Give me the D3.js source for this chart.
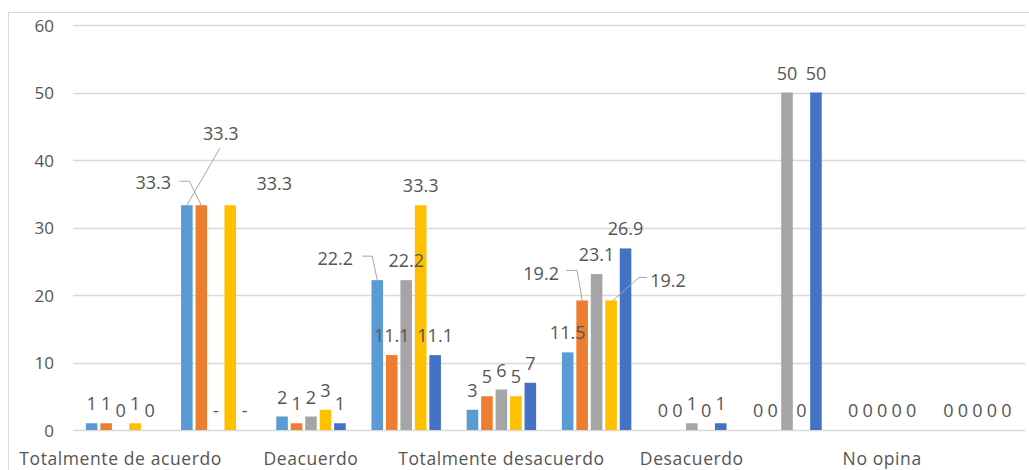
<!DOCTYPE html>
<html>
<head>
<meta charset="utf-8">
<script src="https://cdn.jsdelivr.net/npm/d3@7"></script>
<style>
  body { margin: 0; background: #fff; }
  text { font-family: "Open Sans", sans-serif; fill: #555; font-weight: 500; }
</style>
</head>
<body>
<svg id="chart" width="1029" height="470"></svg>
<script>
// categorias (cada una ocupa dos grupos: frecuencia y porcentaje)
const categories = ["Totalmente de acuerdo", "Deacuerdo", "Totalmente desacuerdo", "Desacuerdo", "No opina"];
const groups = ["TA n", "TA %", "DA n", "DA %", "TD n", "TD %", "D n", "D %", "NO n", "NO %"];
const seriesNames = ["Serie 1", "Serie 2", "Serie 3", "Serie 4", "Serie 5"];
const colors = ["#5B9BD5", "#ED7D31", "#A5A5A5", "#FFC000", "#4472C4"];

// null = sin dato (se muestra "-")
const serie1 = [1, 33.3, 2, 22.2, 3, 11.5, 0, 0, 0, 0];
const serie2 = [1, 33.3, 1, 11.1, 5, 19.2, 0, 0, 0, 0];
const serie3 = [0, null, 2, 22.2, 6, 23.1, 1, 50, 0, 0];
const serie4 = [1, 33.3, 3, 33.3, 5, 19.2, 0, 0, 0, 0];
const serie5 = [0, null, 1, 11.1, 7, 26.9, 1, 50, 0, 0];
const series = [serie1, serie2, serie3, serie4, serie5];

const yTicks = [0, 10, 20, 30, 40, 50, 60];

// etiquetas movidas a mano (como en Excel), relativas al tope de la barra
const moved = {
  "1-0": { dx: 34, dy: -72, line: [[33, -57], [0, 0]] },
  "1-1": { dx: -48, dy: -23, line: [[-22, -24], [-12, -24], [0, 0]] },
  "1-3": { dx: 44, dy: -22 },
  "3-0": { dx: -42, dy: -22, line: [[-15, -24], [-5, -24], [0, 0]] },
  "5-1": { dx: -41, dy: -27, line: [[-16, -30], [-5, -30], [0, 0]] },
  "5-3": { dx: 57, dy: -20, line: [[36, -23], [28, -23], [2, 0]] }
};

const svg = d3.select("#chart");
const plot = { left: 73, right: 1025, top: 25, bottom: 430 };

// marco exterior
svg.append("rect")
  .attr("x", 8.5).attr("y", 12.5)
  .attr("width", 1040).attr("height", 480)
  .attr("fill", "none").attr("stroke", "#d9d9d9");

const y = d3.scaleLinear().domain([0, 60]).range([plot.bottom, plot.top]);
const x0 = d3.scaleBand().domain(d3.range(groups.length)).range([plot.left, plot.right])
  .paddingInner(0.24).paddingOuter(0.12);
const x1 = d3.scaleBand().domain(d3.range(seriesNames.length)).range([0, x0.bandwidth()])
  .paddingInner(0.2).paddingOuter(0.1);

// lineas de cuadricula
svg.append("g").selectAll("line")
  .data(yTicks)
  .join("line")
  .attr("x1", plot.left).attr("x2", plot.right)
  .attr("y1", d => Math.round(y(d)) + 0.5).attr("y2", d => Math.round(y(d)) + 0.5)
  .attr("stroke", "#d9d9d9").attr("stroke-width", 1.5);

svg.append("g").selectAll("text")
  .data(yTicks)
  .join("text")
  .attr("x", 54).attr("y", d => y(d))
  .attr("text-anchor", "end").attr("dominant-baseline", "central")
  .style("font-size", "17px")
  .text(d => d);

// etiquetas del eje x (una cada dos grupos)
svg.append("g").selectAll("text")
  .data(categories)
  .join("text")
  .attr("x", (d, i) => x0(i * 2) + x0.bandwidth() / 2)
  .attr("y", 458)
  .attr("text-anchor", "middle").attr("dominant-baseline", "central")
  .style("font-size", "17.5px").style("letter-spacing", "0.6px")
  .text(d => d);

const cells = [];
series.forEach((vals, s) => vals.forEach((v, g) => cells.push({ g, s, v })));

// barras
svg.append("g").selectAll("rect")
  .data(cells.filter(d => d.v !== null))
  .join("rect")
  .attr("x", d => x0(d.g) + x1(d.s))
  .attr("width", x1.bandwidth())
  .attr("y", d => y(d.v))
  .attr("height", d => y(0) - y(d.v))
  .attr("fill", d => colors[d.s]);

// lineas guia
const lineGen = d3.line();
svg.append("g").selectAll("path")
  .data(cells.filter(d => moved[d.g + "-" + d.s] && moved[d.g + "-" + d.s].line))
  .join("path")
  .attr("d", d => {
    const cx = x0(d.g) + x1(d.s) + x1.bandwidth() / 2, ty = y(d.v || 0);
    return lineGen(moved[d.g + "-" + d.s].line.map(p => [cx + p[0], ty + p[1]]));
  })
  .attr("fill", "none").attr("stroke", "#a6a6a6").attr("stroke-width", 1);

// etiquetas de datos
svg.append("g").selectAll("text")
  .data(cells)
  .join("text")
  .attr("x", d => {
    const m = moved[d.g + "-" + d.s];
    return x0(d.g) + x1(d.s) + x1.bandwidth() / 2 + (m ? m.dx : 0);
  })
  .attr("y", d => {
    const m = moved[d.g + "-" + d.s];
    return y(d.v || 0) + (m ? m.dy : -20);
  })
  .attr("text-anchor", "middle").attr("dominant-baseline", "central")
  .style("font-size", "18px")
  .text(d => d.v === null ? "-" : d.v);
</script>
</body>
</html>
